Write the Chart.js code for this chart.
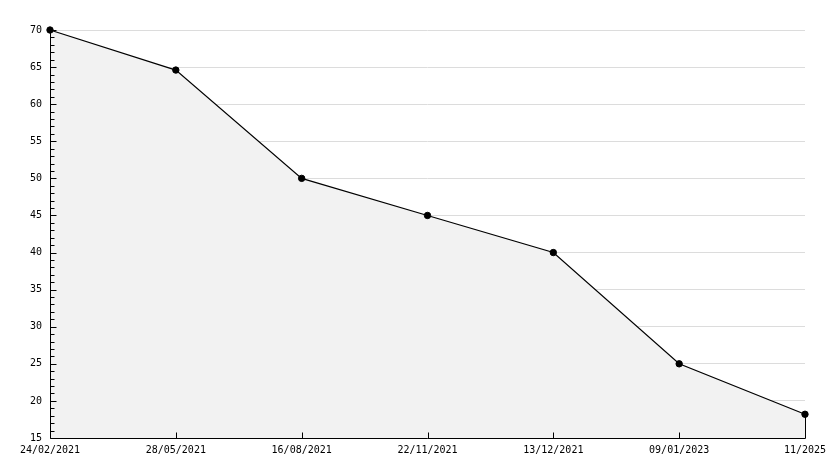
<!DOCTYPE html>
<html>
<head>
<meta charset="utf-8">
<script src="https://cdn.jsdelivr.net/npm/chart.js@4/dist/chart.umd.min.js"></script>
<style>
  html, body { margin: 0; padding: 0; background: #fff; }
</style>
</head>
<body>
<canvas id="chart" width="834" height="468"></canvas>
<script>
  // ---- data ----
  const dateLabels = ["24/02/2021", "28/05/2021", "16/08/2021", "22/11/2021", "13/12/2021", "09/01/2023", "11/2025"];
  const values = [70, 64.6, 50, 45, 40, 25, 18.2];
  const yMin = 15;
  const yMax = 70;
  const yStep = 5;

  const tickFont = { family: "DejaVu Sans Mono", size: 10 };

  // axis lines, tick marks inside the plot, right edge of the filled area
  const axisMarks = {
    id: "axisMarks",
    afterDatasetsDraw(chart) {
      const ctx = chart.ctx;
      const xs = chart.scales.x;
      const ys = chart.scales.y;
      const left = Math.round(chart.chartArea.left) + 0.5;
      const right = chart.chartArea.right;
      const top = chart.chartArea.top;
      const bottom = Math.round(chart.chartArea.bottom) + 0.5;
      ctx.save();
      ctx.strokeStyle = "#000";
      ctx.lineWidth = 1;
      ctx.beginPath();
      // axes
      ctx.moveTo(left, top);
      ctx.lineTo(left, bottom);
      ctx.lineTo(right, bottom);
      for (let v = yMin; v <= yMax; v++) {
        const y = Math.round(ys.getPixelForValue(v)) + 0.5;
        const len = v % yStep === 0 ? 6 : 4;
        ctx.moveTo(left, y);
        ctx.lineTo(left + len, y);
      }
      for (let i = 1; i < dateLabels.length; i++) {
        const x = Math.round(xs.getPixelForValue(i)) + 0.5;
        ctx.moveTo(x, bottom);
        ctx.lineTo(x, bottom - 6);
      }
      // area closes down to the axis at the last point
      const meta = chart.getDatasetMeta(0);
      const last = meta.data[meta.data.length - 1];
      const lx = Math.round(last.x) + 0.5;
      ctx.moveTo(lx, last.y);
      ctx.lineTo(lx, bottom);
      ctx.stroke();
      ctx.restore();
    }
  };

  new Chart(document.getElementById("chart"), {
    type: "line",
    data: {
      labels: dateLabels,
      datasets: [{
        data: values,
        borderColor: "#000",
        borderWidth: 1.2,
        backgroundColor: "#f2f2f2",
        fill: "start",
        tension: 0,
        clip: false,
        pointRadius: 3.2,
        pointBackgroundColor: "#000",
        pointBorderColor: "#000",
        pointBorderWidth: 1
      }]
    },
    options: {
      responsive: false,
      animation: false,
      layout: { padding: { top: 30, right: 29, left: 0, bottom: 0 } },
      plugins: {
        legend: { display: false },
        tooltip: { enabled: false }
      },
      scales: {
        x: {
          offset: false,
          grid: { display: false, drawTicks: false },
          border: { display: false },
          ticks: { color: "#000", font: tickFont, padding: 6, maxRotation: 0, autoSkip: false },
          afterFit: (scale) => { scale.height = 30; }
        },
        y: {
          min: yMin,
          max: yMax,
          grid: { color: "#dcdcdc", drawTicks: false, lineWidth: 1 },
          border: { display: false },
          ticks: { stepSize: yStep, color: "#000", font: tickFont, padding: 8 },
          afterFit: (scale) => { scale.width = 50; }
        }
      }
    },
    plugins: [axisMarks]
  });
</script>
</body>
</html>
